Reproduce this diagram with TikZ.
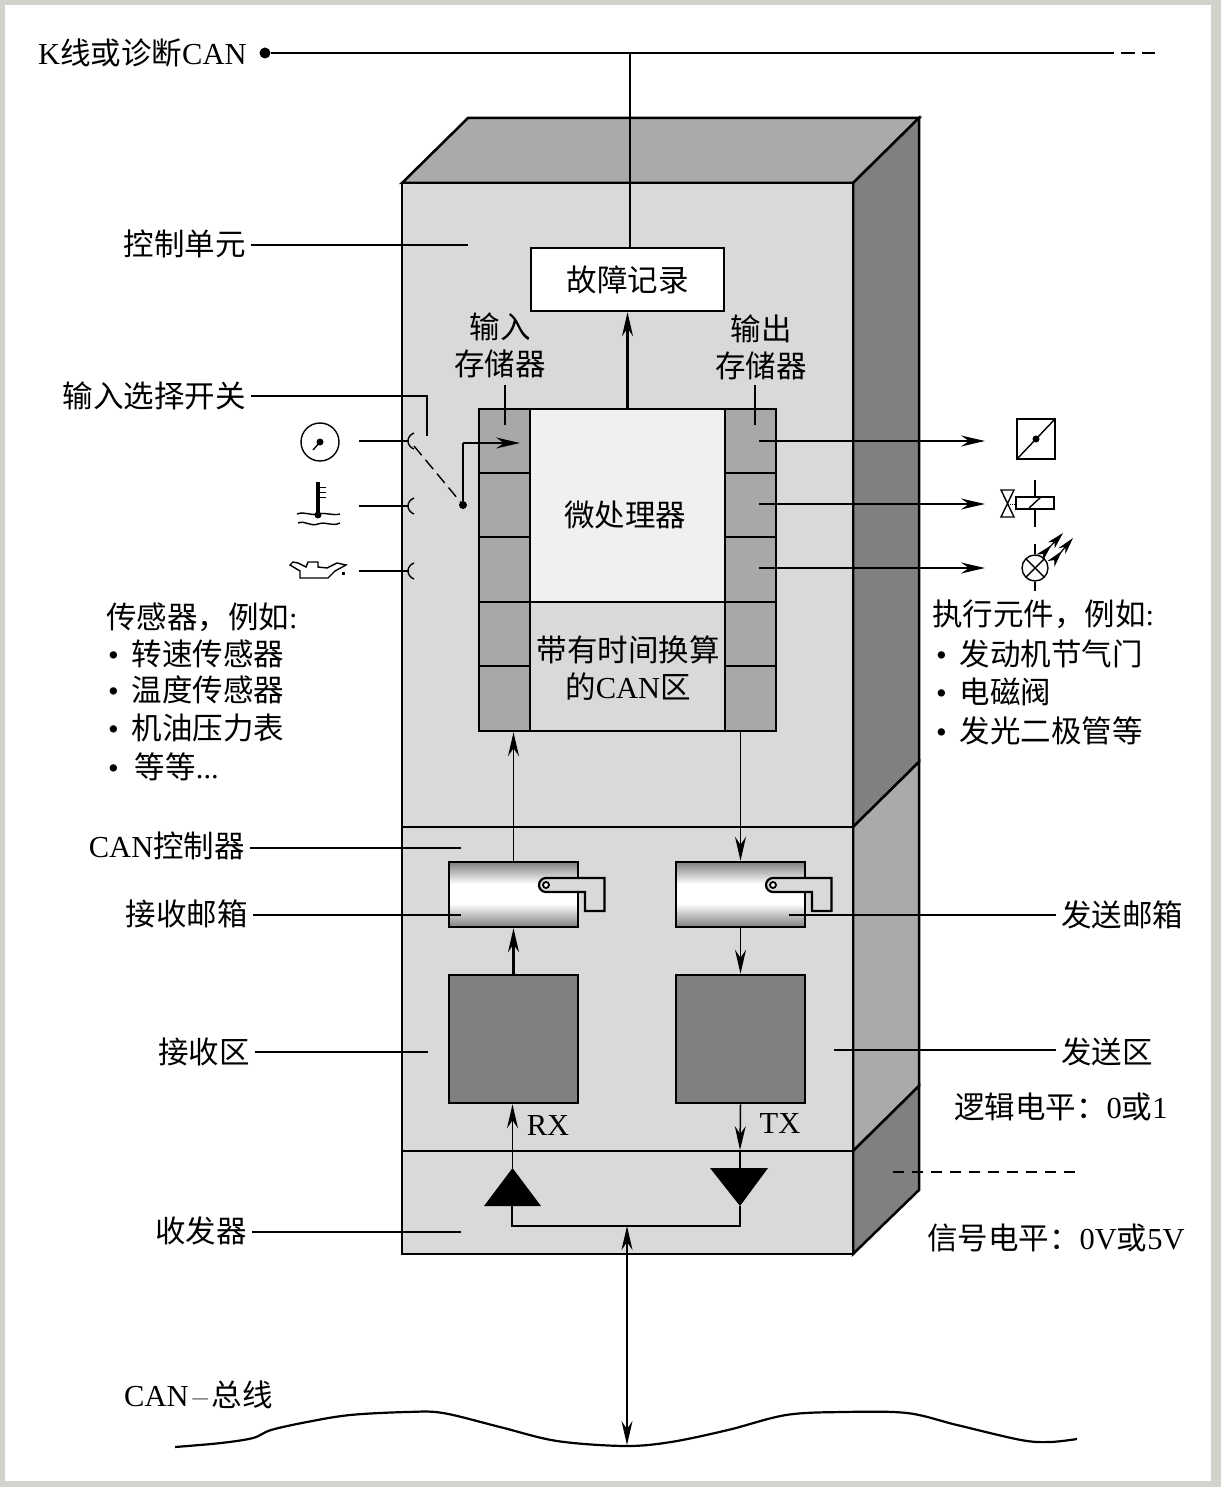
\documentclass[tikz,border=0pt]{standalone}
\usepackage{fontspec}
\setmainfont{Liberation Serif}
\newfontfamily\cjk{Noto Sans CJK SC}
\usepackage{xcolor}
\usetikzlibrary{arrows.meta}
\definecolor{pagegray}{RGB}{210,211,204}
\definecolor{frontgray}{RGB}{217,217,217}
\definecolor{sidegray}{RGB}{128,128,128}
\definecolor{midgray}{RGB}{170,170,170}
\definecolor{cellgray}{RGB}{168,168,168}
\definecolor{chipgray}{RGB}{240,240,240}
\pgfdeclareverticalshading{mailshade}{100bp}{color(0bp)=(sidegray); color(25bp)=(sidegray); color(43bp)=(white); color(58bp)=(white); color(75bp)=(sidegray); color(100bp)=(sidegray)}
\newcommand{\zh}[1]{{\cjk #1}}
\tikzset{
  lbl/.style={font=\fontsize{30.5}{37}\selectfont, inner sep=5pt, text height=27pt, text depth=5pt},
  blocktext/.style={font=\fontsize{30.5}{37}\selectfont, inner sep=0pt, align=center},
  boxline/.style={draw, line width=2.5pt, inner sep=0pt},
  cell/.style={boxline, fill=cellgray, minimum width=51pt},
  leader/.style={line width=1.4pt},
  arw/.style={line width=1.5pt, -{Stealth[length=24pt,width=11pt,inset=8pt]}},
  thickarw/.style={arw, line width=2.4pt},
  mailbox/.style={boxline, shading=mailshade, minimum width=129pt, minimum height=65pt},
  mailtab/.style={line width=2.2pt, fill=frontgray},
  rxzone/.style={boxline, fill=sidegray, minimum width=129pt, minimum height=128pt},
  symbol/.style={line width=1.4pt}
}
\begin{document}
\begin{tikzpicture}[x=1pt,y=-1pt]
  % page and frame
  \fill[pagegray] (0,0) rectangle (1221,1487);
  \fill[white] (5,5) rectangle (1211,1481);
  \useasboundingbox (0,0) rectangle (1221,1487);

  % housing
  \draw[line width=2.5pt, fill=midgray] (402,183) -- (468,118) -- (919,118) -- (853,183) -- cycle;
  \draw[line width=2.5pt, fill=sidegray] (853,183) -- (919,118) -- (919,762) -- (853,827) -- cycle;
  \draw[line width=2.5pt, fill=midgray] (853,827) -- (919,762) -- (919,1086) -- (853,1151) -- cycle;
  \draw[line width=2.5pt, fill=sidegray] (853,1151) -- (919,1086) -- (919,1190) -- (853,1254) -- cycle;
  \draw[line width=2.5pt, fill=frontgray] (402,183) rectangle (853,1254);
  \draw[line width=2.2pt] (402,827) -- (853,827);
  \draw[line width=2.2pt] (402,1151) -- (853,1151);

  % processor block
  \node[boxline, fill=chipgray, minimum width=195pt, minimum height=193pt] (cpu) at (627.5,505.5) {};
  \node[boxline, fill=frontgray, minimum width=195pt, minimum height=129pt] (canarea) at (627.5,666.5) {};
  \node[cell, minimum height=64pt] (ina) at (504.5,441) {};
  \node[cell, minimum height=64pt] (inb) at (504.5,505) {};
  \node[cell, minimum height=65pt] (inc) at (504.5,569.5) {};
  \node[cell, minimum height=64pt] (ind) at (504.5,634) {};
  \node[cell, minimum height=65pt] (ine) at (504.5,698.5) {};
  \node[cell, minimum height=64pt] (outa) at (750.5,441) {};
  \node[cell, minimum height=64pt] (outb) at (750.5,505) {};
  \node[cell, minimum height=65pt] (outc) at (750.5,569.5) {};
  \node[cell, minimum height=64pt] (outd) at (750.5,634) {};
  \node[cell, minimum height=65pt] (oute) at (750.5,698.5) {};
  \node[blocktext] at (625,515) {\zh{微处理器}};
  \node[blocktext] at (628,668) {\zh{带有时间换算}\\\zh{的}CAN\zh{区}};

  % fault memory
  \node[boxline, fill=white, minimum width=193pt, minimum height=63pt] (fault) at (627.5,279.5) {\fontsize{30.5}{37}\selectfont\zh{故障记录}};
  \draw[thickarw] (cpu.north) -- (cpu.north |- fault.south);
  \node[blocktext] at (500,345) {\zh{输入}\\\zh{存储器}};
  \node[blocktext] at (761,347) {\zh{输出}\\\zh{存储器}};
  \coordinate (inmemtop) at (505,385);
  \coordinate (inmemend) at (505,425);
  \coordinate (outmemtop) at (755,385);
  \coordinate (outmemend) at (755,425);
  \draw[leader] (inmemtop) -- (inmemend);
  \draw[leader] (outmemtop) -- (outmemend);

  % diagnostic line
  \node[lbl, anchor=west, inner sep=0pt] (kline) at (38,54) {K\zh{线或诊断}CAN};
  \node[circle, fill=black, inner sep=0pt, minimum size=11pt] (kdot) at (265,53) {};
  \coordinate (kend) at (1100,53);
  \coordinate (kdash) at (1155,53);
  \coordinate (ktap) at (630,53);
  \draw[leader] (kdot) -- (kend);
  \draw[leader, dash pattern=on 14pt off 7pt] (kend) -- (kdash);
  \draw[leader] (ktap) -- (ktap |- fault.north);

  % left labels
  \node[lbl, anchor=east] (ctrl) at (251,245) {\zh{控制单元}};
  \coordinate (ctrlend) at (468,245);
  \draw[leader] (ctrl.east) -- (ctrlend);
  \node[lbl, anchor=east] (selector) at (251,396) {\zh{输入选择开关}};
  \coordinate (selcorner) at (427,396);
  \coordinate (selend) at (427,436);
  \draw[leader] (selector.east) -- (selcorner) -- (selend);
  \node[lbl, anchor=east] (canctrl) at (250,846) {CAN\zh{控制器}};
  \coordinate (canctrlend) at (461,848);
  \draw[leader] (canctrl.east |- canctrlend) -- (canctrlend);
  \node[lbl, anchor=east] (rzlabel) at (255,1052) {\zh{接收区}};
  \coordinate (rzlabelend) at (428,1052);
  \draw[leader] (rzlabel.east) -- (rzlabelend);
  \node[lbl, anchor=east] (trans) at (252,1231) {\zh{收发器}};
  \coordinate (transend) at (461,1232);
  \draw[leader] (trans.east |- transend) -- (transend);

  % right labels
  \node[lbl, anchor=west] (txlabel) at (1056,915) {\zh{发送邮箱}};
  \coordinate (txlabelend) at (789,915);
  \node[lbl, anchor=west] (tzlabel) at (1056,1052) {\zh{发送区}};
  \coordinate (tzlabelend) at (834,1050);
  \node[lbl, anchor=west, inner sep=0pt] at (954,1107) {\zh{逻辑电平：}0\zh{或}1};
  \node[lbl, anchor=west, inner sep=0pt] at (927,1238) {\zh{信号电平：}0V\zh{或}5V};
  \coordinate (levela) at (893,1172);
  \coordinate (levelb) at (1075,1172);
  \draw[leader, dash pattern=on 11pt off 8pt] (levela) -- (levelb);

  % sensors
  \node[circle, draw, line width=1.4pt, inner sep=0pt, minimum size=38pt] (gauge) at (320,442) {};
  \fill (320,442) circle (3.5);
  \draw[symbol] (320,442) -- (313,450);
  \draw[line width=3.5pt] (318,482) -- (318,515);
  \fill (318,515) circle (3.5);
  \draw[line width=1pt] (319,487) -- (326,487) (319,492) -- (326,492) (319,497) -- (326,497);
  \draw[symbol] (297,514) .. controls (305,511) and (310,516) .. (318,514) .. controls (326,512) and (332,516) .. (340,514);
  \draw[symbol] (298,523) .. controls (305,520) and (310,527) .. (318,524) .. controls (326,521) and (332,527) .. (340,523);
  \draw[symbol] (300,571) -- (300,578) -- (328,578) -- (335,571) -- (346,565) -- (337,563) -- (327,568) -- (318,567) -- (318,562) -- (308,562) -- (306,567) -- (298,563) -- (293,562) -- (290,565) -- (295,568) -- cycle;
  \fill (342,571.5) rectangle (345,574.5);
  \coordinate (sensa) at (359,441);
  \coordinate (sensb) at (359,506);
  \coordinate (sensc) at (359,571);
  \coordinate (jacka) at (408,441);
  \coordinate (jackb) at (408,506);
  \coordinate (jackc) at (408,571);
  \draw[leader] (sensa) -- (jacka);
  \draw[leader] (sensb) -- (jackb);
  \draw[leader] (sensc) -- (jackc);
  \draw[symbol] (414,433) .. controls (406,436) and (406,446) .. (414,449);
  \draw[symbol] (414,498) .. controls (406,501) and (406,511) .. (414,514);
  \draw[symbol] (414,563) .. controls (406,566) and (406,576) .. (414,579);
  % selector switch
  \node[circle, fill=black, inner sep=0pt, minimum size=8pt] (swdot) at (463,505) {};
  \coordinate (swopen) at (414,446);
  \coordinate (swturn) at (463,443);
  \coordinate (swend) at (520,443);
  \draw[leader, dash pattern=on 12pt off 6pt] (swopen) -- (swdot);
  \draw[leader] (swdot) -- (swturn);
  \draw[arw] (swturn) -- (swend);

  \node[lbl, anchor=west, inner sep=0pt] at (106,617) {\zh{传感器，例如}:};
  \node[lbl, anchor=west, inner sep=0pt] at (108,654) {•\hspace{13pt}\zh{转速传感器}};
  \node[lbl, anchor=west, inner sep=0pt] at (108,690) {•\hspace{13pt}\zh{温度传感器}};
  \node[lbl, anchor=west, inner sep=0pt] at (108,728) {•\hspace{13pt}\zh{机油压力表}};
  \node[lbl, anchor=west, inner sep=0pt] at (108,767) {•\hspace{16pt}\zh{等等}...};

  % actuators
  \coordinate (acta) at (759,441);
  \coordinate (actb) at (759,504);
  \coordinate (actc) at (759,568);
  \coordinate (actaend) at (985,441);
  \coordinate (actbend) at (985,504);
  \coordinate (actcend) at (985,568);
  \draw[arw] (acta) -- (actaend);
  \draw[thickarw] (actb) -- (actbend);
  \draw[thickarw] (actc) -- (actcend);
  \draw[symbol] (1017,419) rectangle (1055,459);
  \draw[symbol] (1017,459) -- (1055,419);
  \fill (1036,439) circle (3.5);
  \draw[symbol] (1035,480) -- (1035,527);
  \draw[symbol, fill=white] (1016,497) rectangle (1054,509);
  \draw[symbol] (1029,508) -- (1041,497);
  \draw[symbol, fill=white] (1001,490) -- (1014,490) -- (1001,517) -- (1014,517) -- cycle;
  \draw[line width=1pt, densely dotted] (1008,504) -- (1016,504);
  \node[circle, draw, line width=1.4pt, inner sep=0pt, minimum size=26pt] (lamp) at (1035,568) {};
  \draw[symbol] (1026,559) -- (1044,577) (1026,577) -- (1044,559);
  \draw[symbol] (1035,544) -- (lamp.north) (lamp.south) -- (1035,591);
  \draw[-{Stealth[length=17pt,width=9pt,inset=5pt] Stealth[length=17pt,width=9pt,inset=5pt]}, line width=1.2pt] (1044,553) -- (1063,533);
  \draw[-{Stealth[length=17pt,width=9pt,inset=5pt] Stealth[length=17pt,width=9pt,inset=5pt]}, line width=1.2pt] (1056,558) -- (1073,538);

  \node[lbl, anchor=west, inner sep=0pt] at (932,614) {\zh{执行元件，例如}:};
  \node[lbl, anchor=west, inner sep=0pt] at (936,654) {•\hspace{13pt}\zh{发动机节气门}};
  \node[lbl, anchor=west, inner sep=0pt] at (936,692) {•\hspace{13pt}\zh{电磁阀}};
  \node[lbl, anchor=west, inner sep=0pt] at (936,731) {•\hspace{13pt}\zh{发光二极管等}};

  % mailboxes
  \node[mailbox] (rxmail) at (513.5,894.5) {};
  \node[mailbox] (txmail) at (740.5,894.5) {};
  \draw[mailtab] (546,878) -- (604.5,878) -- (604.5,911) -- (585,911) -- (585,892) -- (546,892) arc (90:270:7) -- cycle;
  \draw[mailtab] (773,878) -- (831.5,878) -- (831.5,911) -- (812,911) -- (812,892) -- (773,892) arc (90:270:7) -- cycle;
  \draw[line width=1.8pt, fill=white] (546,885) circle (3);
  \draw[line width=1.8pt, fill=white] (773,885) circle (3);
  \node[lbl, anchor=east] (rxlabel) at (253,914) {\zh{接收邮箱}};
  \coordinate (rxlabelend) at (461,915);
  \draw[leader] (rxlabel.east |- rxlabelend) -- (rxlabelend);
  \draw[leader] (txlabel.west) -- (txlabelend);
  \draw[leader] (tzlabel.west |- tzlabelend) -- (tzlabelend);

  % receive and transmit areas
  \node[rxzone] (rxarea) at (513.5,1039) {};
  \node[rxzone] (txarea) at (740.5,1039) {};
  \draw[thickarw] (rxarea.north) -- (rxmail.south);
  \draw[arw] (txmail.south) -- (txarea.north);
  \draw[arw] (rxmail.north) -- (rxmail.north |- ine.south);
  \draw[arw] (txmail.north |- oute.south) -- (txmail.north);
  \node[lbl, anchor=center, inner sep=0pt] at (548,1124) {RX};
  \node[lbl, anchor=center, inner sep=0pt] at (780,1122) {TX};

  % drivers and bus
  \fill (512.5,1168) coordinate (rxdrv) -- (541,1206) coordinate (rxdrvr) -- (484,1206) coordinate (rxdrvl) -- cycle;
  \fill (710,1168) coordinate (txdrvl) -- (768,1168) coordinate (txdrvr) -- (740,1206) coordinate (txdrv) -- cycle;
  \coordinate (txtop) at (740,1168);
  \coordinate (txhead) at (740,1150);
  \coordinate (rxfoot) at (512,1206);
  \coordinate (busa) at (512,1226);
  \coordinate (busb) at (740,1226);
  \coordinate (bustap) at (627,1226);
  \coordinate (busend) at (627,1445);
  \draw[arw] (rxdrv) -- (rxdrv |- rxarea.south);
  \draw[arw] (txarea.south) -- (txhead);
  \draw[line width=1.8pt] (txhead) -- (txtop);
  \draw[line width=2pt] (rxfoot) -- (busa) -- (busb) -- (txdrv);
  \draw[line width=1.5pt, {Stealth[length=24pt,width=11pt,inset=8pt]}-{Stealth[length=24pt,width=11pt,inset=8pt]}] (bustap) -- (busend);
  \draw[line width=2.2pt] plot[smooth, tension=0.55] coordinates {(175,1447) (221,1443) (253,1438) (271,1430) (307,1422) (350,1415) (407,1412) (443,1413) (500,1427) (557,1441) (625,1446) (671,1442) (728,1430) (786,1415) (843,1412) (907,1413) (957,1425) (1021,1440) (1050,1442) (1077,1439)};
  \node[lbl, anchor=west, inner sep=0pt] at (124,1395) {CAN\hspace{4pt}\textcolor{gray}{\textendash}\hspace{4pt}\zh{总线}};
\end{tikzpicture}
\end{document}
